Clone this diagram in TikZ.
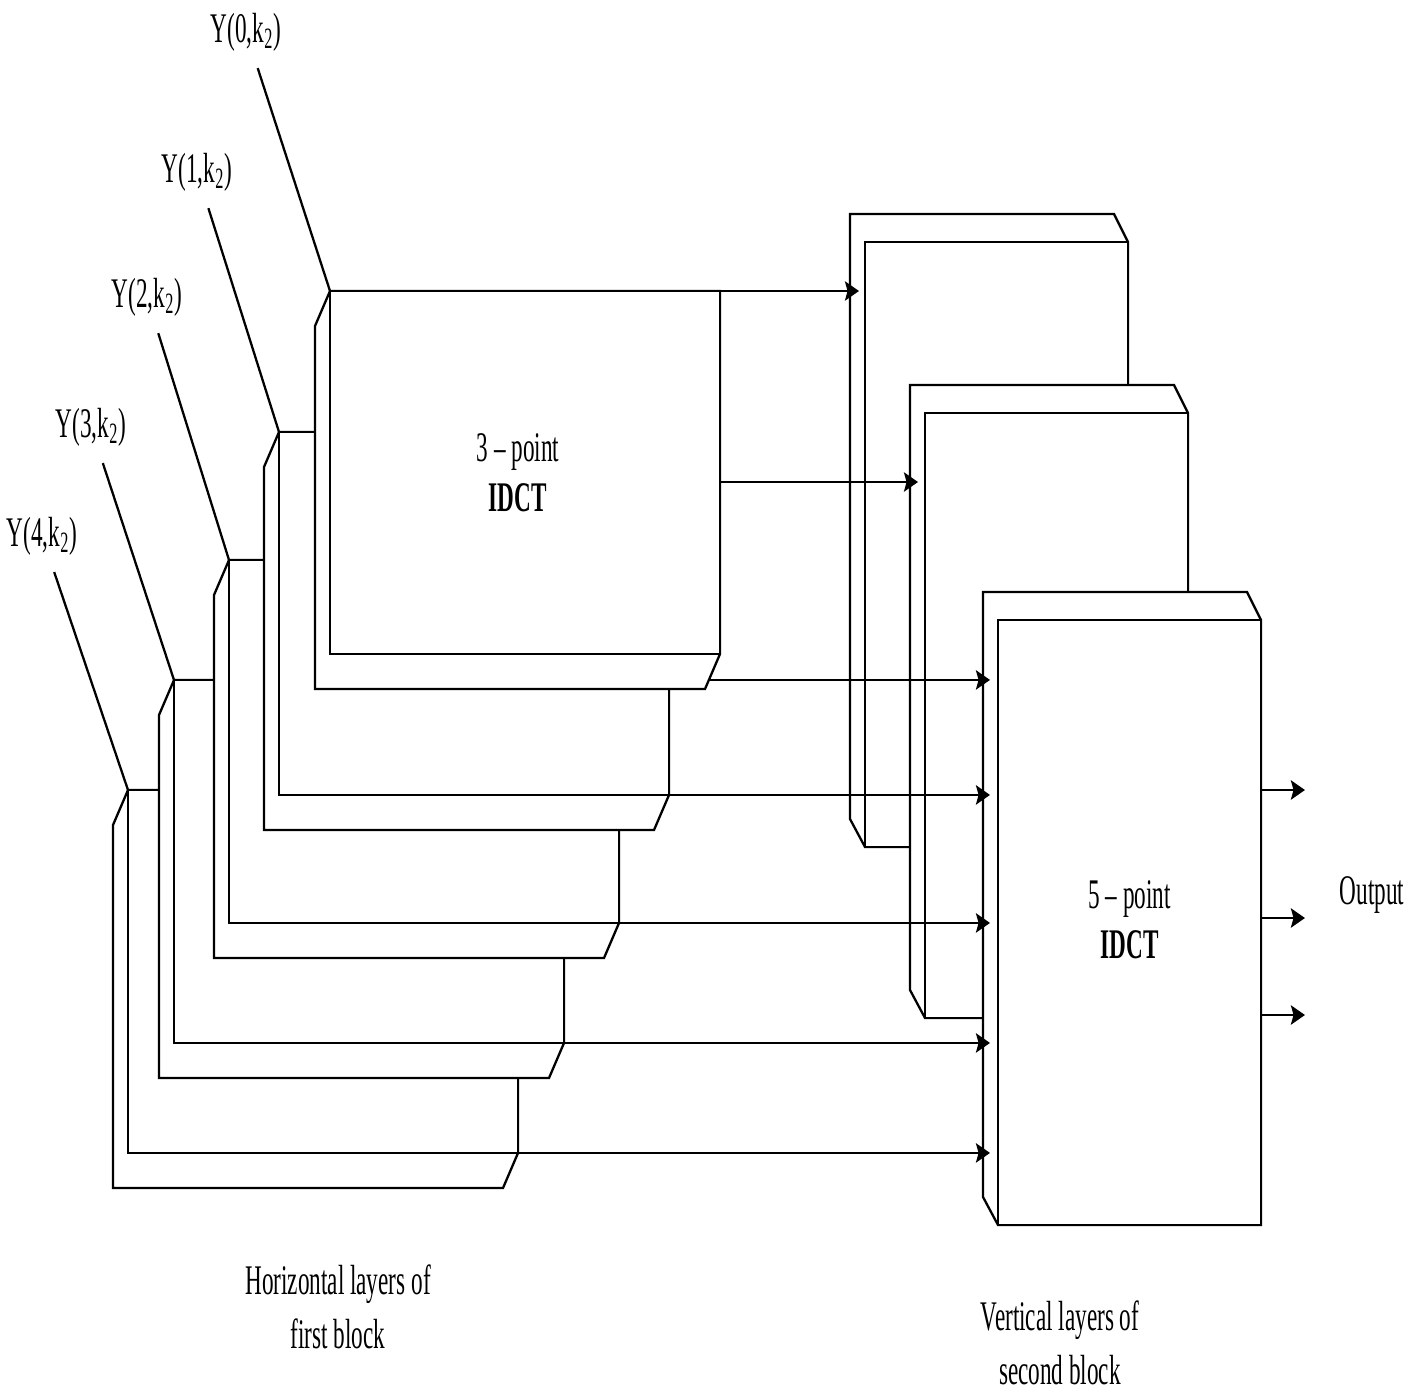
\documentclass[tikz,border=0pt]{standalone}
\usepackage{fontspec}
\setmainfont{Liberation Serif}[FakeStretch=0.55]
\usetikzlibrary{arrows.meta, positioning, calc}

\begin{document}
\begin{tikzpicture}[
    x=0.02cm, y=-0.02cm,
    garis/.style={line width=1.3pt},
    muka/.style={garis, draw, fill=white, inner sep=0pt, outer sep=0pt, anchor=north west},
    mukah/.style={muka, minimum width=7.8cm, minimum height=7.26cm},
    mukav/.style={muka, minimum width=5.26cm, minimum height=12.1cm},
    teks/.style={inner sep=0pt, align=center, font=\fontsize{24}{28.5}\selectfont},
    panah/.style={garis, -{Stealth[length=8pt, width=11pt, inset=1.5pt]}}
  ]
    \useasboundingbox (0,0) rectangle (1409,1397);
    % horizontal layers of the first block (back one first)
    \foreach \n/\x/\y in {4/128/790, 3/174/680, 2/229/560, 1/279/432, 0/330/291} {
      \filldraw[garis, fill=white] (\x,\y) -- ++(-15,35) -- ++(0,363) -- ++(390,0)
        -- ++(15,-35) -- ++(0,-363) -- cycle;
      \node[mukah] (h\n) at (\x,\y) {};
    }
    % vertical layers of the second block
    \foreach \n/\x/\y in {a/865/242, b/925/413, c/998/620} {
      \filldraw[garis, fill=white] (\x,\y) ++(-15,-28) -- ++(264,0) -- ++(14,28)
        -- ++(0,605) -- ++(-263,0) -- ++(-15,-28) -- cycle;
      \node[mukav] (\n) at (\x,\y) {};
    }
    \node[teks] at ([xshift=-0.14cm]h0.center) {3 -- point\\\textbf{IDCT}};
    \node[teks] at ([yshift=0.05cm]c.center) {5 -- point\\\textbf{IDCT}};

    % inputs
    \foreach \n/\x/\y in {0/246/32, 1/197/172, 2/147/297, 3/91/427, 4/42/536} {
      \node[teks] (y\n) at (\x,\y) {Y(\n,k\textsubscript{2})};
      \draw[garis, shorten <=0.35cm] (y\n) -- (h\n.north west);
    }

    % first block to second block
    \draw[panah] (h0.north east) -- ($(h0.north east -| a.west)+(-6,0)$);
    \coordinate (h0m) at ($(h0.north east)+(0,191)$);
    \draw[panah] (h0m) -- ($(h0m -| b.west)+(-7,0)$);
    \coordinate (h0b) at ($(h0.south east)+(-11,26)$);
    \draw[panah] (h0b) -- ($(h0b -| c.west)+(-8,0)$);
    \foreach \n in {1,...,4}
      \draw[panah] (h\n.south east) -- ($(h\n.south east -| c.west)+(-8,0)$);

    % outputs
    \foreach \k/\d in {1/170, 2/298, 3/395} {
      \coordinate (o\k) at ($(c.north east)+(0,\d)$);
      \draw[panah] (o\k) -- ++(44,0);
    }
    \node[teks] (out) at (1372,895) {Output};

    \node[teks, font=\fontsize{24}{31}\selectfont] at (338,1307) {Horizontal layers of\\first block};
    \node[teks, font=\fontsize{24}{31}\selectfont] at (1060,1343) {Vertical layers of\\second block};
  \end{tikzpicture}
\end{document}
